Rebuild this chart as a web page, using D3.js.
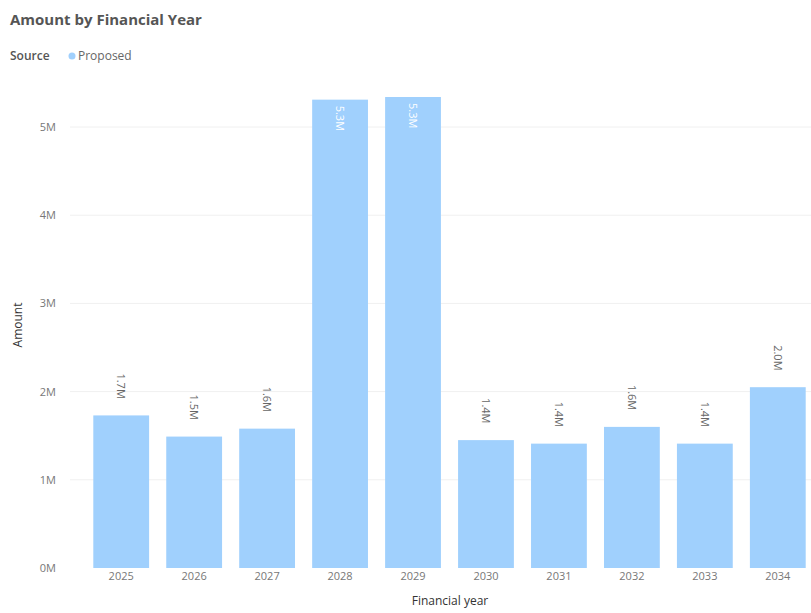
<!DOCTYPE html>
<html>
<head>
<meta charset="utf-8">
<script src="https://cdn.jsdelivr.net/npm/d3@7"></script>
<style>
  body { margin: 0; background: #fff; font-family: "Segoe UI", "Open Sans", "DejaVu Sans", sans-serif; }
</style>
</head>
<body>
<div id="chart"></div>
<script>
// Data
const years = ["2025", "2026", "2027", "2028", "2029", "2030", "2031", "2032", "2033", "2034"];
const amounts = [1730000, 1490000, 1580000, 5310000, 5340000, 1450000, 1410000, 1600000, 1410000, 2050000];
const yTicks = [0, 1000000, 2000000, 3000000, 4000000, 5000000];

const W = 811, H = 613;
const margin = {top: 82, right: 0, bottom: 45, left: 86};
const barColor = "#a0d0fd";

const svg = d3.select("#chart")
    .append("svg")
    .attr("width", W)
    .attr("height", H);

// Title
svg.append("text")
    .attr("x", 10)
    .attr("y", 25)
    .style("font-size", "15px")
    .style("font-weight", "bold")
    .attr("fill", "#555")
    .text("Amount by Financial Year");

// Legend
svg.append("text")
    .attr("x", 10)
    .attr("y", 60)
    .style("font-size", "12px")
    .style("font-weight", "600")
    .attr("fill", "#555")
    .text("Source");
svg.append("circle")
    .attr("cx", 72)
    .attr("cy", 56)
    .attr("r", 3.5)
    .attr("fill", barColor);
svg.append("text")
    .attr("x", 78)
    .attr("y", 60)
    .style("font-size", "12px")
    .attr("fill", "#666")
    .text("Proposed");

// Scales
const x = d3.scaleBand()
    .domain(years)
    .range([margin.left, W - margin.right + 2])
    .paddingInner(0.235)
    .paddingOuter(0.1);

const y = d3.scaleLinear()
    .domain([0, 5000000])
    .range([568, 127]);

// Gridlines
svg.append("g")
    .selectAll("line")
    .data(yTicks.slice(1))
    .join("line")
    .attr("x1", 70)
    .attr("x2", W)
    .attr("y1", d => y(d))
    .attr("y2", d => y(d))
    .attr("stroke", "#f0f0f0")
    .attr("stroke-width", 1);

// Y axis
const yAxis = svg.append("g")
    .attr("transform", "translate(56,0)")
    .call(d3.axisLeft(y).tickValues(yTicks).tickSize(0).tickPadding(0)
        .tickFormat(d => (d / 1000000) + "M"));
yAxis.select(".domain").remove();
yAxis.selectAll("text")
    .style("font-size", "11px")
    .style("font-family", "'Segoe UI', 'Open Sans', sans-serif")
    .attr("fill", "#777");

svg.append("text")
    .attr("transform", `translate(22, 325) rotate(-90)`)
    .attr("text-anchor", "middle")
    .style("font-size", "12px")
    .attr("fill", "#333")
    .text("Amount");

// Bars
svg.append("g")
    .selectAll("rect")
    .data(years)
    .join("rect")
    .attr("x", d => x(d))
    .attr("width", x.bandwidth())
    .attr("y", (d, i) => y(amounts[i]))
    .attr("height", (d, i) => y(0) - y(amounts[i]))
    .attr("fill", barColor);

// Data labels, rotated
const fmt = v => (v / 1000000).toFixed(1) + "M";
svg.append("g")
    .selectAll("text")
    .data(years)
    .join("text")
    .attr("transform", (d, i) => {
        const cx = x(d) + x.bandwidth() / 2;
        const inside = amounts[i] > 4000000;
        const yy = inside ? y(amounts[i]) + 6 : y(amounts[i]) - 42;
        return `translate(${cx - 4},${yy}) rotate(90)`;
    })
    .attr("text-anchor", "start")
    .style("font-size", "11px")
    .attr("fill", (d, i) => amounts[i] > 4000000 ? "#ffffff" : "#666")
    .text((d, i) => fmt(amounts[i]));

// X axis
const xAxis = svg.append("g")
    .attr("transform", "translate(0,572)")
    .call(d3.axisBottom(x).tickSize(0).tickPadding(0));
xAxis.select(".domain").remove();
xAxis.selectAll("text")
    .attr("dy", "0.71em")
    .style("font-size", "11px")
    .style("font-family", "'Segoe UI', 'Open Sans', sans-serif")
    .attr("fill", "#777");

svg.append("text")
    .attr("x", 450)
    .attr("y", 605)
    .attr("text-anchor", "middle")
    .style("font-size", "12px")
    .attr("fill", "#333")
    .text("Financial year");
</script>
</body>
</html>
